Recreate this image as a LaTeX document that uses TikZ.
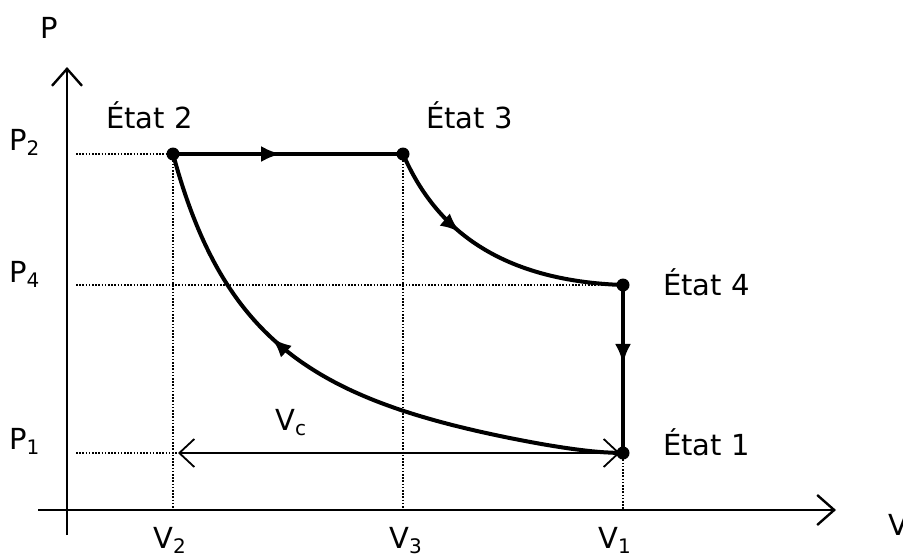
\documentclass[tikz,border=0pt]{standalone}
\usepackage{fontspec}
\setmainfont{DejaVu Sans}
\usetikzlibrary{arrows.meta,decorations.markings}
\newcommand\ssub[1]{\raisebox{-5pt}{\fontsize{20}{20}\selectfont #1}}
\begin{document}
\begin{tikzpicture}[x=1pt,y=-1pt,
  lbl/.style={inner sep=0pt,anchor=base west,font=\fontsize{29}{34}\selectfont},
  axisline/.style={line width=2.4pt,-{Straight Barb[length=17pt,width=30pt,line width=2.4pt]}},
  guide/.style={line width=1.6pt,dash pattern=on 1.6pt off 1.6pt},
  cyc/.style={line width=4pt},
  midarrow/.style={postaction={decorate},decoration={markings,mark=at position #1 with {\arrow{Latex[length=20pt,width=16pt]}}}},
  dot/.style={circle,fill=black,inner sep=0pt,minimum size=13pt}
]
\useasboundingbox (0,0) rectangle (903,560);
% coordinates
\coordinate (s1) at (623,453);
\coordinate (s2) at (173,154);
\coordinate (s3) at (403,154);
\coordinate (s4) at (623,285);
\coordinate (yb) at (67,535);
\coordinate (yt) at (67,67);
\coordinate (xl) at (38,510);
\coordinate (xr) at (836,510);
\coordinate (p2) at (76,154);
\coordinate (p4) at (76,285);
\coordinate (p1) at (76,453);
\coordinate (v2) at (173,510);
\coordinate (v3) at (403,510);
\coordinate (v1) at (623,510);
\coordinate (vca) at (178,453);
\coordinate (vcb) at (620,453);
% guides
\draw[guide] (p2) -- (s2);
\draw[guide] (p4) -- (s4);
\draw[guide] (p1) -- (vca);
\draw[guide] (s2) -- (v2);
\draw[guide] (s3) -- (v3);
\draw[guide] (s1) -- (v1);
% axes
\draw[axisline] (yb) -- (yt);
\draw[axisline] (xl) -- (xr);
% Vc
\draw[line width=1.8pt,{Straight Barb[length=15pt,width=28pt,line width=1.8pt]}-{Straight Barb[length=15pt,width=28pt,line width=1.8pt]}] (vca) -- (vcb);
% cycle
\draw[cyc,midarrow=0.47] (s2) -- (s3);
\draw[cyc,midarrow=0.36] (s3) .. controls (428,211) and (480,280) .. (s4);
\draw[cyc,midarrow=0.47] (s4) -- (s1);
\draw[cyc,midarrow=0.64] plot[domain=623:173,samples=90,smooth] (\x,{510-356*exp(1.106*ln(106/(\x-67)))+51*((\x-173)/450)^8*(623-\x)/450});
\node[dot] (d1) at (s1) {};
\node[dot] (d2) at (s2) {};
\node[dot] (d3) at (s3) {};
\node[dot] (d4) at (s4) {};
% labels
\node[lbl] (lP) at (40,38) {P};
\node[lbl] (lV) at (888,535) {V};
\node[lbl] (lP2) at (9,150) {P\ssub{2}};
\node[lbl] (lP4) at (9,282) {P\ssub{4}};
\node[lbl] (lP1) at (9,449) {P\ssub{1}};
\node[lbl] (lV2) at (153,548) {V\ssub{2}};
\node[lbl] (lV3) at (389,548) {V\ssub{3}};
\node[lbl] (lV1) at (598,548) {V\ssub{1}};
\node[lbl] (lVc) at (275,430) {V\ssub{c}};
\node[lbl] (e2) at (106,128) {État 2};
\node[lbl] (e3) at (426,128) {État 3};
\node[lbl] (e4) at (663,295) {État 4};
\node[lbl] (e1) at (663,455) {État 1};
\end{tikzpicture}
\end{document}
